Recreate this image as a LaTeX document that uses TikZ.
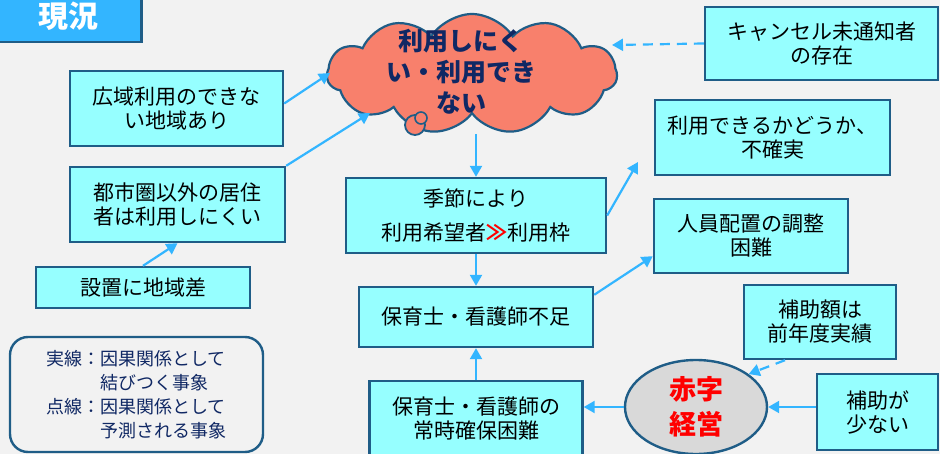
\documentclass[tikz,border=0pt]{standalone}
\usepackage{fontspec}
\newfontfamily\jp{Noto Sans CJK JP}
\usetikzlibrary{shapes.symbols,shapes.geometric,arrows.meta,calc}
\definecolor{bg}{RGB}{242,242,242}
\definecolor{boxfill}{RGB}{150,255,255}
\definecolor{boxline}{RGB}{31,93,135}
\definecolor{arrc}{RGB}{51,181,255}
\definecolor{cloudfill}{RGB}{248,128,108}
\definecolor{navy}{RGB}{16,40,100}
\definecolor{titlefill}{RGB}{51,181,255}
\definecolor{ellfill}{RGB}{217,217,217}
\begin{document}
\begin{tikzpicture}[x=1pt,y=-1pt,
 box/.style={draw=boxline, line width=2.4pt, fill=boxfill, inner sep=0pt, align=center,
   font=\jp\fontsize{21}{24}\selectfont, text=black},
 arr/.style={draw=arrc, line width=2.2pt, -{Triangle[length=11pt,width=12pt]}},
 darr/.style={arr, dash pattern=on 10pt off 7pt}]
\fill[bg] (0,0) rectangle (940,454);
\useasboundingbox (0,0) rectangle (940,454);

% title
\node[fill=titlefill, minimum width=146pt, minimum height=48pt, inner sep=0pt] (title) at (68,18) {};
\draw[boxline, line width=2.6pt] (title.north east) -- (title.south east) -- (title.south west);
\node[font=\jp\bfseries\fontsize{30}{34}\selectfont, text=white] (titletxt) at (68,16) {現況};

% cloud
\node[cloud, cloud puffs=11, cloud puff arc=115, aspect=2.4, draw=boxline, line width=2.2pt,
  fill=cloudfill, minimum width=290pt, minimum height=120pt, inner sep=0pt] (cloud) at (472,74) {};
\draw[boxline, line width=1.8pt, fill=cloudfill] (415,125) circle (10pt);
\draw[boxline, line width=1.6pt, fill=cloudfill] (421,118) circle (6pt);
\node[font=\jp\bfseries\fontsize{25}{31}\selectfont, text=navy, align=center] (cloudtxt) at (461,72)
  {利用しにく\\い・利用でき\\ない};

% boxes
\node[box, minimum width=213pt, minimum height=75pt] (b1) at (176.5,108.5) {広域利用のできな\\い地域あり};
\node[box, minimum width=215pt, minimum height=75pt] (b2) at (177.5,204.5) {都市圏以外の居住\\者は利用しにくい};
\node[box, minimum width=214pt, minimum height=41pt] (b3) at (143,287.5) {設置に地域差};
\node[box, minimum width=233pt, minimum height=73pt] (b6) at (821.5,43.5) {キャンセル未通知者\\の存在};
\node[box, minimum width=235pt, minimum height=75pt] (b7) at (772.5,137.5) {利用できるかどうか、\\不確実};
\node[box, minimum width=260pt, minimum height=75pt] (b8) at (476,215.5)
  {季節により\\[10pt]利用希望者{\color{red}\bfseries ≫}利用枠};
\node[box, minimum width=234pt, minimum height=60pt] (b9) at (476,317) {保育士・看護師不足};
\node[box, minimum width=194pt, minimum height=74pt] (b10) at (751,236) {人員配置の調整\\困難};
\node[box, minimum width=152pt, minimum height=74pt] (b11) at (820,322) {補助額は\\前年度実績};
\node[box, minimum width=121pt, minimum height=76pt] (b12) at (877.5,412) {補助が\\少ない};
\node[box, minimum width=213pt, minimum height=75pt] (b13) at (476,418.5) {保育士・看護師の\\常時確保困難};
\node[ellipse, draw=boxline, line width=2.4pt, fill=ellfill, minimum width=142pt, minimum height=94pt,
  inner sep=0pt, align=center, text=red, font=\jp\bfseries\fontsize{27}{35}\selectfont] (ell) at (696,407) {赤字\\経営};

% legend
\node[draw=boxline, line width=2.4pt, rounded corners=18pt, minimum width=253pt, minimum height=115pt] (leg) at (136.5,394.5) {};
\node[font=\jp\fontsize{18}{24}\selectfont, text=navy, align=left] (legtxt) at (leg.center)
  {実線：因果関係として\\\phantom{実線：}結びつく事象\\点線：因果関係として\\\phantom{点線：}予測される事象};

% free ends
\coordinate (c1) at (330,73);
\coordinate (c2) at (370,113);
\coordinate (c3) at (612,45);
\coordinate (c4) at (476,134);
\coordinate (c5) at (638,162);

% arrows
\draw[arr] ([yshift=5pt]b1.east) -- (c1);
\draw[arr] (b2.north east) -- (c2);
\draw[arr] (b3.north) -- (b2.south);
\draw[darr] (b6.west) -- (c3);
\draw[arr] (c4) -- (b8.north);
\draw[arr] (b8.east) -- (c5);
\draw[arr] (b8.south) -- (b9.north);
\draw[arr] ([yshift=-9pt]b9.north east) -- ([yshift=18pt]b10.south west);
\draw[arr] (b13.north) -- (b9.south);
\draw[arr] (ell.west) -- (ell.west -| b13.east);
\draw[darr] ([xshift=-35pt]b11.south) -- (ell.32);
\draw[arr] (b12.west |- ell.east) -- (ell.east);
\end{tikzpicture}
\end{document}
